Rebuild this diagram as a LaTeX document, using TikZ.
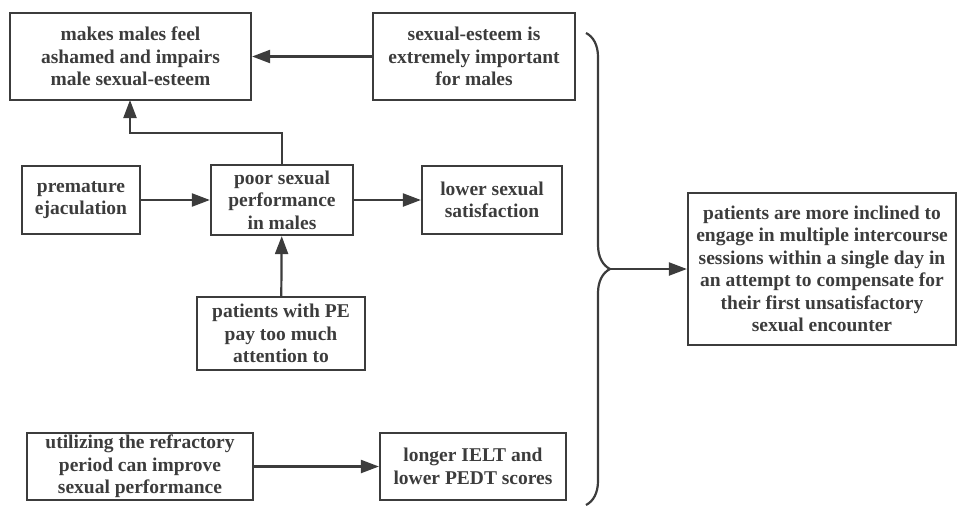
\documentclass[tikz,border=0pt]{standalone}
\usepackage{fontspec}
\setmainfont{Liberation Serif}[BoldFont={Liberation Serif Bold}]
\usetikzlibrary{positioning,arrows.meta,decorations.pathreplacing}
\definecolor{inkgray}{HTML}{3C3C3C}
\tikzset{
  >={Triangle[length=18pt,width=13pt]},
  box/.style={draw=inkgray,line width=2.2pt,align=center,inner sep=2pt,
    text=inkgray,font=\fontsize{19.5}{22.5}\selectfont\bfseries},
  link/.style={->,draw=inkgray,line width=2.2pt},
  bracket/.style={draw=inkgray,line width=2.2pt,decorate,
    decoration={brace,amplitude=24pt}},
}
\begin{document}
\begin{tikzpicture}[x=1pt,y=-1pt]
  \useasboundingbox (0,0) rectangle (957,507);
  % top row
  \node[box,minimum width=241pt,minimum height=87pt] (shame) at (130.5,56.5)
    {makes males feel\\ashamed and impairs\\male sexual-esteem};
  \node[box,minimum width=202pt,minimum height=87pt] (esteem) at (474,56.5)
    {sexual-esteem is\\extremely important\\for males};
  % middle row
  \node[box,minimum width=118pt,minimum height=68pt] (pe) at (81,200)
    {premature\\ejaculation};
  \node[box,minimum width=142pt,minimum height=70pt] (poor) at (282,200)
    {poor sexual\\performance\\in males};
  \node[box,minimum width=140pt,minimum height=68pt] (lower) at (492,200)
    {lower sexual\\satisfaction};
  \node[box,minimum width=168pt,minimum height=73pt] (attn) at (281,333.5)
    {patients with PE\\pay too much\\attention to};
  % bottom row
  \node[box,minimum width=226pt,minimum height=67pt] (refr) at (140,466.5)
    {utilizing the refractory\\period can improve\\sexual performance};
  \node[box,minimum width=186pt,minimum height=67pt] (ielt) at (473,466.5)
    {longer IELT and\\lower PEDT scores};
  % result
  \node[box,minimum width=268pt,minimum height=152pt] (multi) at (822,269)
    {patients are more inclined to\\engage in multiple intercourse\\
     sessions within a single day in\\an attempt to compensate for\\
     their first unsatisfactory\\sexual encounter};
  % connectors
  \draw[link] (esteem) -- (shame);
  \draw[link] (poor.north) |- (130,133) -- (130,100);
  \draw[link] (pe) -- (poor);
  \draw[link] (poor) -- (lower);
  \draw[link] (attn) -- (poor);
  \draw[link] (refr) -- (ielt);
  % brace
  \coordinate (btop) at (586,33);
  \coordinate (bbot) at (586,505);
  \coordinate (btip) at (610,269);
  \draw[bracket] (btop) -- (bbot);
  \draw[link] (btip) -- (multi.west);
\end{tikzpicture}
\end{document}
